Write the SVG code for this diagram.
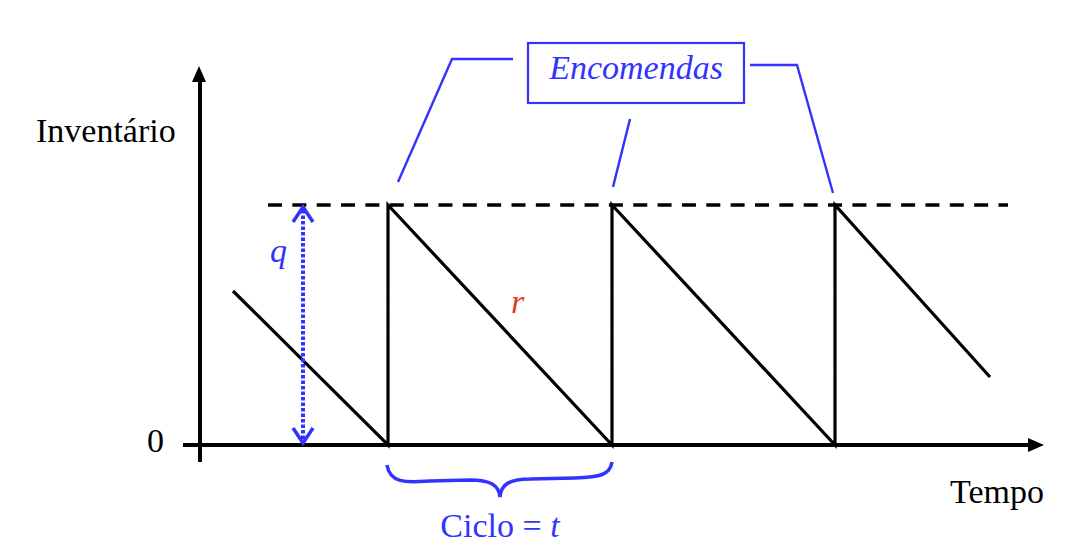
<svg xmlns="http://www.w3.org/2000/svg" width="1072" height="554" viewBox="0 0 1072 554">
<style>
.ser{font-family:"Liberation Serif","Times New Roman",serif;font-size:34px;}
.blk{fill:#000;}
.blu{fill:#3333ff;}
.it{font-style:italic;}
.ln{stroke:#000;stroke-width:3.2;fill:none;}
.ax{stroke:#000;stroke-width:4;fill:none;}
.bl{stroke:#3333ff;stroke-width:2.4;fill:none;}
</style>
<rect width="1072" height="554" fill="#fff"/>
<g id="axes">
<line class="ax" x1="200" y1="462" x2="200" y2="80"/>
<polygon points="199,66 192,82 206,82" fill="#000"/>
<line class="ax" x1="183" y1="445" x2="1030" y2="445"/>
<polygon points="1044,445 1028,438 1028,452" fill="#000"/>
</g>
<g id="labels">
<text class="ser blk" x="36" y="142">Inventário</text>
<text class="ser blk" x="147" y="452">0</text>
<text class="ser blk" x="950" y="503">Tempo</text>
<text class="ser blu it" x="270" y="262">q</text>
<text class="ser it" x="511" y="313" fill="#e03a20">r</text>
<text class="ser blu" x="500" y="537" text-anchor="middle">Ciclo = <tspan class="it">t</tspan></text>
</g>
<g id="max-level">
<line x1="268" y1="205" x2="1008" y2="205" stroke="#000" stroke-width="3.5" stroke-dasharray="14 10.35"/>
</g>
<g id="inventory">
<polyline class="ln" points="233,291 388,445 388,205 612,445 612,205 835,445 835,205 990,377"/>
</g>
<g id="q-arrow">
<line x1="303" y1="210" x2="303" y2="441" stroke="#3333ff" stroke-width="4" stroke-dasharray="3.5 2"/>
<polyline points="293,222 303,207 313,222" fill="none" stroke="#3333ff" stroke-width="3.5"/>
<polyline points="293,428 303,443 313,428" fill="none" stroke="#3333ff" stroke-width="3.5"/>
</g>
<g id="encomendas">
<rect x="528" y="43" width="216" height="60" fill="#fff" stroke="#3333ff" stroke-width="2.2"/>
<text class="ser blu it" x="636" y="79" text-anchor="middle">Encomendas</text>
</g>
<g id="connectors">
<polyline class="bl" points="398,182 452,59 513,59"/>
<line class="bl" x1="630" y1="119" x2="613" y2="187"/>
<polyline class="bl" points="750,65 797,65 833,193"/>
</g>
<g id="brace">
<path d="M387,465 C390,485 410,482 430,481 L470,480 C490,480 499,485 500,497 C501,484 510,479 530,479 L575,478 C600,477 610,475 612,462" fill="none" stroke="#3333ff" stroke-width="3.5"/>
</g>
</svg>
